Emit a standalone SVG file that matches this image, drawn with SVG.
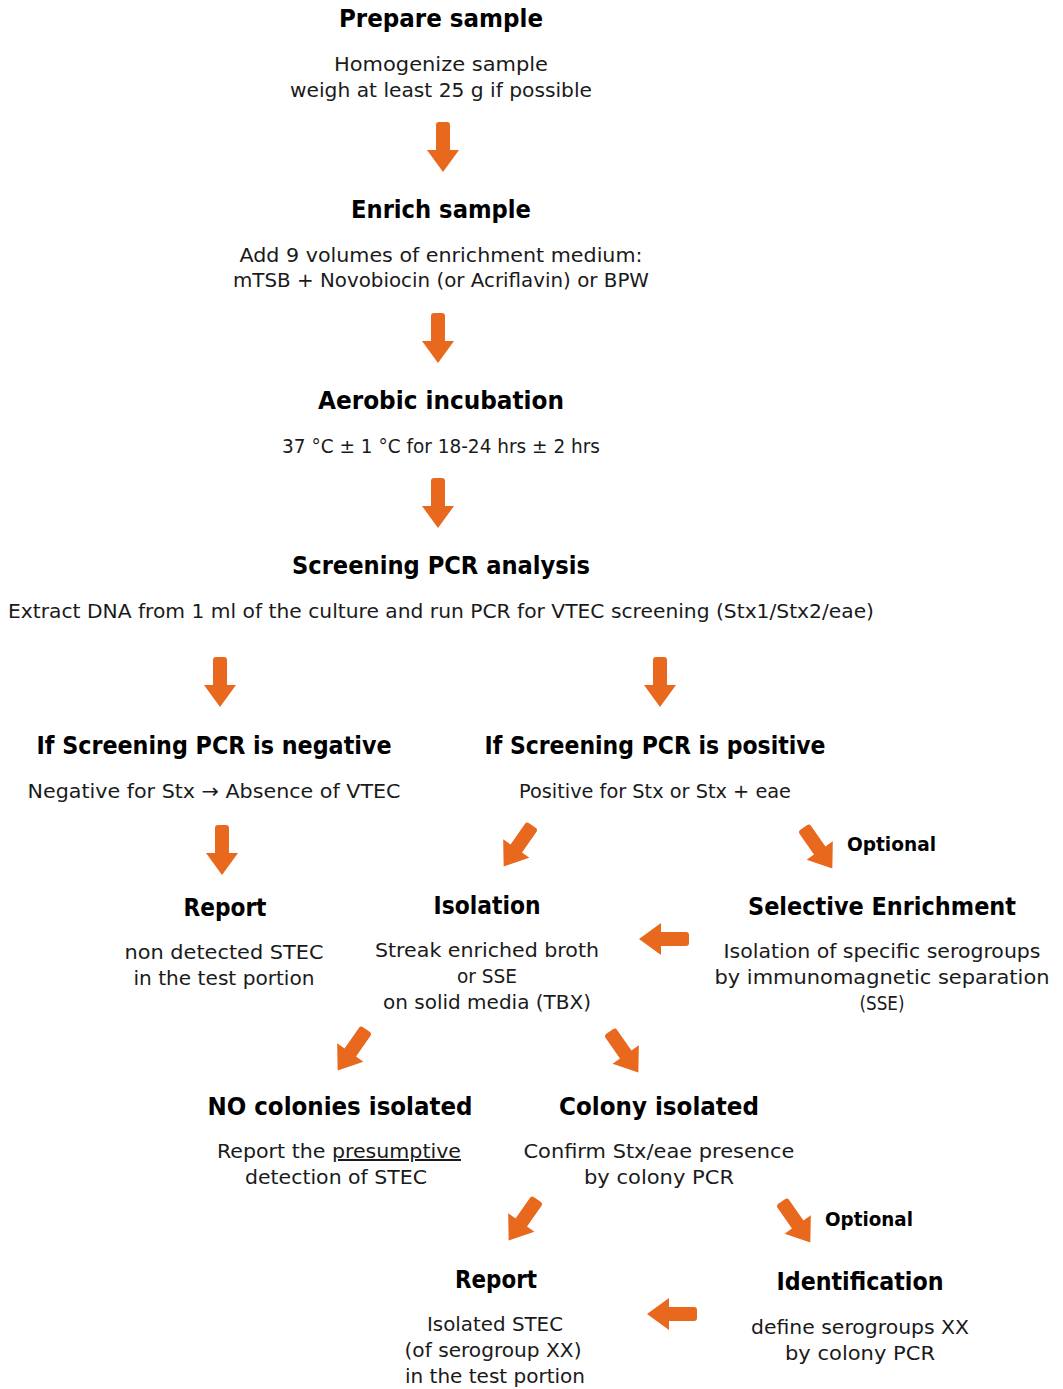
<svg xmlns="http://www.w3.org/2000/svg" width="1063" height="1389" viewBox="0 0 1063 1389">
<style>
.t{font-family:"DejaVu Sans","Liberation Sans",sans-serif;font-weight:bold;font-size:24px;fill:#000;text-anchor:middle}
.b{font-family:"DejaVu Sans","Liberation Sans",sans-serif;font-size:20px;fill:#1a1a1a;text-anchor:middle}
.o{font-family:"DejaVu Sans","Liberation Sans",sans-serif;font-weight:bold;font-size:20px;fill:#000}
.arr{fill:#E8681E}
</style>
<defs>
<path id="ad" class="arr" d="M -7,-22 Q -7,-25 -4,-25 L 4,-25 Q 7,-25 7,-22 L 7,3 L 16,3 L 0,25 L -16,3 L -7,3 Z"/>
</defs>
<rect width="1063" height="1389" fill="#fff"/>
<g id="connectors">
<use href="#ad" transform="translate(443,147)"/>
<use href="#ad" transform="translate(438,338)"/>
<use href="#ad" transform="translate(438,503)"/>
<use href="#ad" transform="translate(220,682)"/>
<use href="#ad" transform="translate(660,682)"/>
<use href="#ad" transform="translate(222,850)"/>
<use href="#ad" transform="translate(518,846) rotate(35)"/>
<use href="#ad" transform="translate(818,848) rotate(-35)"/>
<use href="#ad" transform="translate(664,939) rotate(90)"/>
<use href="#ad" transform="translate(352,1050) rotate(35)"/>
<use href="#ad" transform="translate(624,1052) rotate(-35)"/>
<use href="#ad" transform="translate(523,1220) rotate(35)"/>
<use href="#ad" transform="translate(796,1222) rotate(-35)"/>
<use href="#ad" transform="translate(672,1314) rotate(90)"/>
</g>
<g id="prepare">
<text class="t" x="441" y="27" textLength="204" lengthAdjust="spacingAndGlyphs">Prepare sample</text>
<text class="b" x="441" y="71" textLength="214" lengthAdjust="spacingAndGlyphs">Homogenize sample</text>
<text class="b" x="441" y="97" textLength="302" lengthAdjust="spacingAndGlyphs">weigh at least 25 g if possible</text>
</g>
<g id="enrich">
<text class="t" x="441" y="218" textLength="180" lengthAdjust="spacingAndGlyphs">Enrich sample</text>
<text class="b" x="441" y="262" textLength="403" lengthAdjust="spacingAndGlyphs">Add 9 volumes of enrichment medium:</text>
<text class="b" x="441" y="287" textLength="416" lengthAdjust="spacingAndGlyphs">mTSB + Novobiocin (or Acriflavin) or BPW</text>
</g>
<g id="incubation">
<text class="t" x="441" y="409" textLength="246" lengthAdjust="spacingAndGlyphs">Aerobic incubation</text>
<text class="b" x="441" y="453" textLength="318" lengthAdjust="spacingAndGlyphs">37 °C ± 1 °C for 18-24 hrs ± 2 hrs</text>
</g>
<g id="screening">
<text class="t" x="441" y="574" textLength="298" lengthAdjust="spacingAndGlyphs">Screening PCR analysis</text>
<text class="b" x="441" y="618" textLength="866" lengthAdjust="spacingAndGlyphs">Extract DNA from 1 ml of the culture and run PCR for VTEC screening (Stx1/Stx2/eae)</text>
</g>
<g id="negative">
<text class="t" x="214" y="754" textLength="355" lengthAdjust="spacingAndGlyphs">If Screening PCR is negative</text>
<text class="b" x="214" y="798" textLength="373" lengthAdjust="spacingAndGlyphs">Negative for Stx → Absence of VTEC</text>
</g>
<g id="positive">
<text class="t" x="655" y="754" textLength="341" lengthAdjust="spacingAndGlyphs">If Screening PCR is positive</text>
<text class="b" x="655" y="798" textLength="272" lengthAdjust="spacingAndGlyphs">Positive for Stx or Stx + eae</text>
</g>
<g id="optional1">
<text class="o" x="847" y="851" textLength="89" lengthAdjust="spacingAndGlyphs">Optional</text>
</g>
<g id="report1">
<text class="t" x="225" y="916" textLength="83" lengthAdjust="spacingAndGlyphs">Report</text>
<text class="b" x="224" y="959" textLength="199" lengthAdjust="spacingAndGlyphs">non detected STEC</text>
<text class="b" x="224" y="985" textLength="181" lengthAdjust="spacingAndGlyphs">in the test portion</text>
</g>
<g id="isolation">
<text class="t" x="487" y="914" textLength="107" lengthAdjust="spacingAndGlyphs">Isolation</text>
<text class="b" x="487" y="957" textLength="224" lengthAdjust="spacingAndGlyphs">Streak enriched broth</text>
<text class="b" x="487" y="983" textLength="60" lengthAdjust="spacingAndGlyphs">or SSE</text>
<text class="b" x="487" y="1009" textLength="208" lengthAdjust="spacingAndGlyphs">on solid media (TBX)</text>
</g>
<g id="selective">
<text class="t" x="882" y="915" textLength="268" lengthAdjust="spacingAndGlyphs">Selective Enrichment</text>
<text class="b" x="882" y="958" textLength="317" lengthAdjust="spacingAndGlyphs">Isolation of specific serogroups</text>
<text class="b" x="882" y="984" textLength="335" lengthAdjust="spacingAndGlyphs">by immunomagnetic separation</text>
<text class="b" x="882" y="1010" textLength="45" lengthAdjust="spacingAndGlyphs">(SSE)</text>
</g>
<g id="nocolonies">
<text class="t" x="340" y="1115" textLength="265" lengthAdjust="spacingAndGlyphs">NO colonies isolated</text>
<text class="b" x="339" y="1158" textLength="244" lengthAdjust="spacingAndGlyphs">Report the <tspan text-decoration="underline">presumptive</tspan></text>
<text class="b" x="336" y="1184" textLength="182" lengthAdjust="spacingAndGlyphs">detection of STEC</text>
</g>
<g id="colony">
<text class="t" x="659" y="1115" textLength="200" lengthAdjust="spacingAndGlyphs">Colony isolated</text>
<text class="b" x="659" y="1158" textLength="271" lengthAdjust="spacingAndGlyphs">Confirm Stx/eae presence</text>
<text class="b" x="659" y="1184" textLength="150" lengthAdjust="spacingAndGlyphs">by colony PCR</text>
</g>
<g id="optional2">
<text class="o" x="825" y="1226" textLength="88" lengthAdjust="spacingAndGlyphs">Optional</text>
</g>
<g id="report2">
<text class="t" x="496" y="1288" textLength="82" lengthAdjust="spacingAndGlyphs">Report</text>
<text class="b" x="495" y="1331" textLength="136" lengthAdjust="spacingAndGlyphs">Isolated STEC</text>
<text class="b" x="493" y="1357" textLength="177" lengthAdjust="spacingAndGlyphs">(of serogroup XX)</text>
<text class="b" x="495" y="1383" textLength="180" lengthAdjust="spacingAndGlyphs">in the test portion</text>
</g>
<g id="identification">
<text class="t" x="860" y="1290" textLength="167" lengthAdjust="spacingAndGlyphs">Identification</text>
<text class="b" x="860" y="1334" textLength="218" lengthAdjust="spacingAndGlyphs">define serogroups XX</text>
<text class="b" x="860" y="1360" textLength="150" lengthAdjust="spacingAndGlyphs">by colony PCR</text>
</g>
</svg>
